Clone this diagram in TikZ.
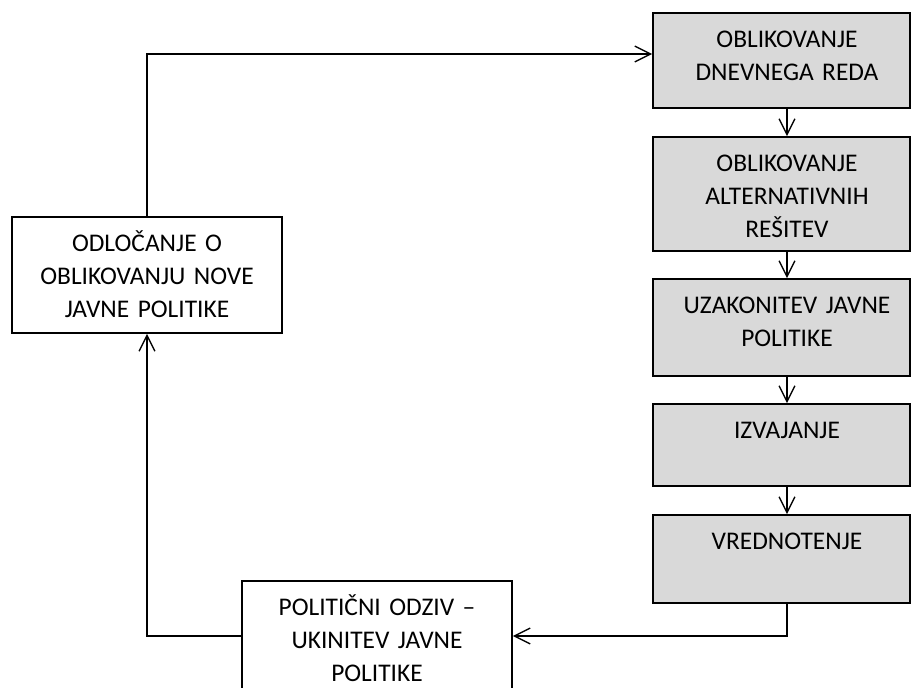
\documentclass[tikz,border=0pt]{standalone}
\usepackage{fontspec}
\setmainfont{Carlito}
\usetikzlibrary{arrows.meta,fit}
\definecolor{boxgray}{HTML}{D9D9D9}
\begin{document}
\begin{tikzpicture}[x=0.472pt,y=-0.472pt,
  frame/.style={draw=black,line width=0.75pt,inner sep=0pt},
  stage/.style={frame,fill=boxgray},
  decision/.style={frame,fill=white},
  txt/.style={anchor=base,yshift=-16.5pt,inner sep=0pt,text width=122pt,
    align=center,font=\fontsize{12}{15.6}\selectfont},
  arr/.style={draw=black,line width=0.65pt,
    -{Straight Barb[length=7.5pt,width=7.5pt,line width=0.65pt]}}]
\useasboundingbox (0,0) rectangle (911,688);
\clip (0,0) rectangle (911,688);
\fill[white] (0,0) rectangle (911,688);

% column of the policy stages
\coordinate (ax) at (787,0);
\node[stage,fit={(653,13) (910,108)}] (b1) {};
\node[stage,fit={(653,137) (910,251)}] (b2) {};
\node[stage,fit={(653,279) (910,376)}] (b3) {};
\node[stage,fit={(653,404) (910,486)}] (b4) {};
\node[stage,fit={(653,515) (910,603)}] (b5) {};

\node[txt] (t1) at (b1.north -| ax) {OBLIKOVANJE\\DNEVNEGA REDA};
\node[txt] (t2) at (b2.north -| ax) {OBLIKOVANJE\\ALTERNATIVNIH\\REŠITEV};
\node[txt] (t3) at (b3.north -| ax) {UZAKONITEV JAVNE\\POLITIKE};
\node[txt] (t4) at (b4.north -| ax) {IZVAJANJE};
\node[txt] (t5) at (b5.north -| ax) {VREDNOTENJE};

% decision and response boxes
\node[decision,fit={(12,217) (282,333)}] (L) {};
\node[txt] (tL) at (L.north) {ODLOČANJE O\\OBLIKOVANJU NOVE\\JAVNE POLITIKE};
\node[decision,fit={(242,581) (512,691)}] (B) {};
\node[txt] (tB) at (B.north) {POLITIČNI ODZIV –\\UKINITEV JAVNE\\POLITIKE};

% connectors
\coordinate (toprow) at (0,54);
\draw[arr] (b1.south -| ax) -- (b2.north -| ax);
\draw[arr] (b2.south -| ax) -- (b3.north -| ax);
\draw[arr] (b3.south -| ax) -- (b4.north -| ax);
\draw[arr] (b4.south -| ax) -- (b5.north -| ax);
\draw[arr] (b5.south -| ax) |- (B.east);
\draw[arr] (B.west) -| (L.south);
\draw[arr] (L.north) |- (b1.west |- toprow);
\end{tikzpicture}
\end{document}
